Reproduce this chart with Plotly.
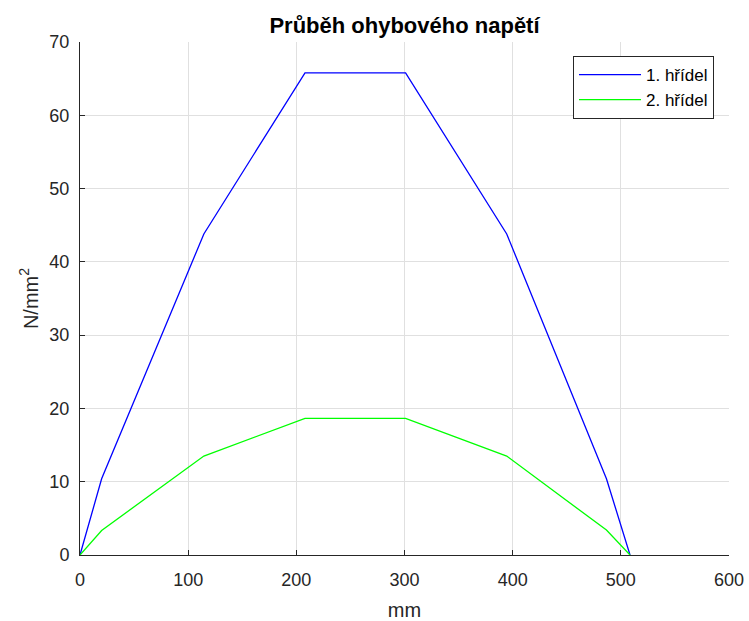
import plotly.graph_objects as go

x_pos = [0, 20, 114.5, 208, 301, 394.5, 486.7, 508.5]
hridel1 = [0, 10.4, 43.8, 65.8, 65.8, 43.8, 10.4, 0]
hridel2 = [0, 3.35, 13.5, 18.65, 18.65, 13.5, 3.4, 0]
x_ticks = [0, 100, 200, 300, 400, 500, 600]
y_ticks = [0, 10, 20, 30, 40, 50, 60, 70]

FONT = "Liberation Sans, Arial, Helvetica, sans-serif"
L, R, T, B = 80, 20, 42, 66
W, H = 749, 621
PW, PH = W - L - R, H - T - B

fig = go.Figure()
fig.add_trace(go.Scatter(x=x_pos, y=hridel1, mode="lines", name="1. hřídel",
                         line=dict(color="#0000ff", width=1.3)))
fig.add_trace(go.Scatter(x=x_pos, y=hridel2, mode="lines", name="2. hřídel",
                         line=dict(color="#00ff00", width=1.3)))

fig.update_layout(
    width=W, height=H,
    margin=dict(l=L, r=R, t=T, b=B, autoexpand=False),
    paper_bgcolor="white", plot_bgcolor="white",
    font=dict(family=FONT, size=18, color="#262626"),
    title=dict(text="<b>Průběh ohybového napětí</b>", x=(L + PW / 2) / W, xanchor="center",
               y=1 - 25 / H, yanchor="middle", font=dict(size=22, color="#000000")),
    xaxis=dict(range=[0, 600], tickvals=x_ticks, showgrid=True, gridcolor="#e0e0e0",
               zeroline=False, showline=True, linecolor="#262626", linewidth=1,
               ticks="inside", ticklen=5, tickcolor="#262626", ticklabelstandoff=8,
               automargin=False,
               title=dict(text="mm", font=dict(size=20), standoff=16)),
    yaxis=dict(range=[0, 70], tickvals=y_ticks, showgrid=True, gridcolor="#e0e0e0",
               zeroline=False, showline=True, linecolor="#262626", linewidth=1,
               ticks="inside", ticklen=5, tickcolor="#262626", ticklabelstandoff=6,
               automargin=False,
               title=dict(text="N/mm<sup>2</sup>", font=dict(size=20), standoff=5)),
    legend=dict(x=(714 - L) / PW, y=(H - B - 56) / PH, xanchor="right", yanchor="top",
                bgcolor="white", bordercolor="#262626", borderwidth=1,
                font=dict(size=17, color="#000000"), itemwidth=62,
                tracegroupgap=0),
    showlegend=True,
)

fig.write_html("out.html")
